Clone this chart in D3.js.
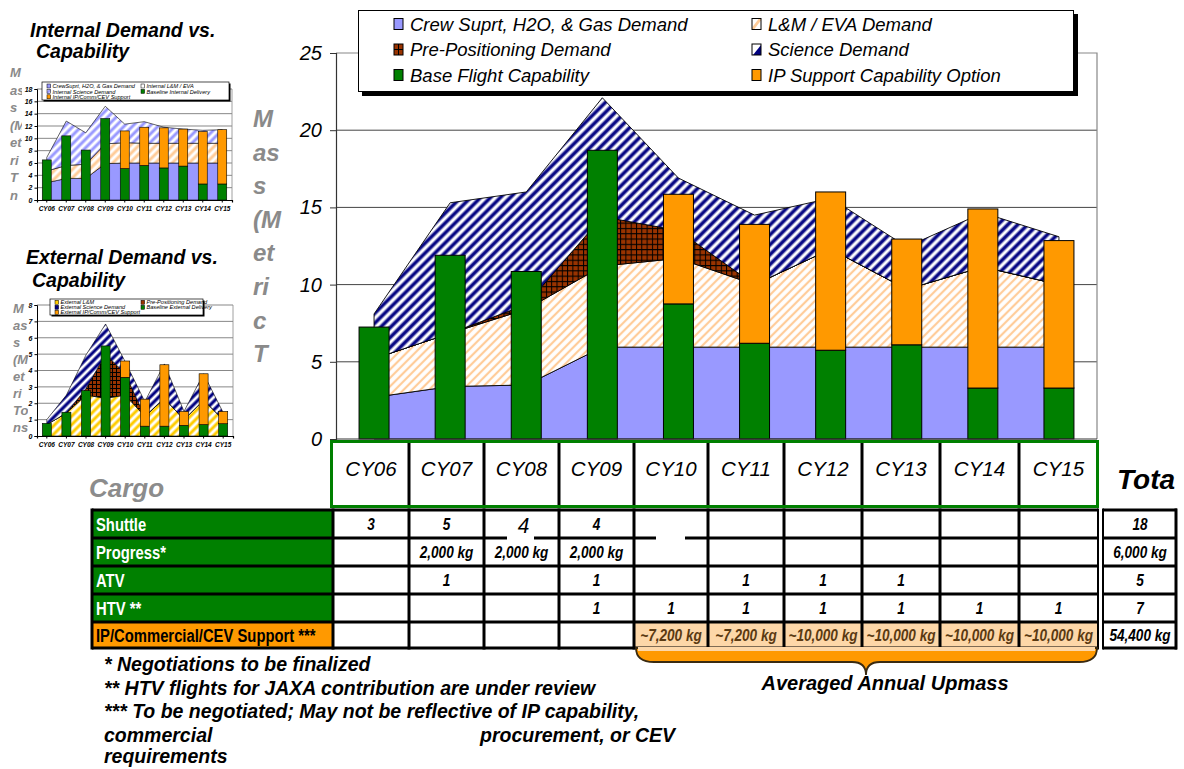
<!DOCTYPE html>
<html>
<head>
<meta charset="utf-8">
<script src="https://cdn.jsdelivr.net/npm/d3@7"></script>
<style>
  body { margin: 0; background: #fff; }
  svg { display: block; }
  text { font-family: "Liberation Sans", Arial, sans-serif; }
</style>
</head>
<body>
<svg id="chart" width="1184" height="769"></svg>
<script>
// ---------- Calendar years ----------
const years = ["CY06","CY07","CY08","CY09","CY10","CY11","CY12","CY13","CY14","CY15"];

// ---------- Main chart: demand (stacked areas) and capability (stacked bars), metric tons ----------
const crewDemand    = [2.7, 3.4, 3.5, 5.95, 5.95, 5.95, 5.95, 5.95, 5.95, 5.95];
const lmEvaDemand   = [2.5, 3.45, 4.9, 5.25, 5.75, 4.05, 6.35, 3.75, 5.2, 4.05];
const prePosDemand  = [0, 0, 0.3, 3.2, 1.8, 0, 0, 0, 0, 0];
const scienceDemand = [2.9, 8.45, 7.3, 7.7, 3.4, 4.5, 3.3, 2.75, 3.5, 3.1];
const baseFlightCap = [7.25, 11.9, 10.85, 18.7, 8.75, 6.2, 5.75, 6.1, 3.3, 3.3];
const ipSupportCap  = [0, 0, 0, 0, 7.1, 7.7, 10.25, 6.85, 11.6, 9.55];
const mainTicks     = [0, 5, 10, 15, 20, 25];

// ---------- Internal demand vs. capability ----------
const intCrew     = [2.8, 3.5, 3.5, 5.9, 6.0, 6.0, 6.0, 6.0, 6.0, 6.0];
const intLmEva    = [1.9, 2.1, 2.3, 3.2, 3.3, 3.2, 3.2, 3.2, 3.2, 3.2];
const intScience  = [2.2, 7.2, 5.1, 6.1, 3.0, 3.5, 2.6, 2.3, 2.1, 2.2];
const intBaseline = [6.5, 10.4, 8.1, 13.2, 5.1, 5.6, 5.2, 5.5, 2.6, 2.6];
const intIpSupport = [0, 0, 0, 0, 6.1, 6.2, 6.5, 6.0, 8.5, 8.8];
const intTicks    = [0, 2, 4, 6, 8, 10, 12, 14, 16, 18];

// ---------- External demand vs. capability ----------
const extLm       = [0.7, 1.4, 2.5, 2.3, 2.5, 1.2, 2.3, 1.0, 2.2, 1.0];
const extPrePos   = [0, 0, 0.4, 2.7, 1.3, 0, 0, 0, 0, 0];
const extScience  = [0.3, 1.1, 2.05, 1.84, 0.74, 0.9, 2.1, 0.5, 1.6, 0.43];
const extBaseline = [0.77, 1.45, 2.77, 5.5, 3.58, 0.6, 0.6, 0.65, 0.7, 0.75];
const extIpSupport = [0, 0, 0, 0, 1.0, 1.65, 3.75, 0.85, 3.1, 0.75];
const extTicks    = [0, 1, 2, 3, 4, 5, 6, 7, 8];

// ---------- Cargo flight table ----------
const cargoRows       = ["Shuttle", "Progress*", "ATV", "HTV **", "IP/Commercial/CEV Support ***"];
const shuttleFlights  = ["3", "5", "4", "4", "", "", "", "", "", ""];
const progressFlights = ["", "2,000 kg", "2,000 kg", "2,000 kg", "", "", "", "", "", ""];
const atvFlights      = ["", "1", "", "1", "", "1", "1", "1", "", ""];
const htvFlights      = ["", "", "", "1", "1", "1", "1", "1", "1", "1"];
const ipUpmass        = ["", "", "", "", "~7,200 kg", "~7,200 kg", "~10,000 kg", "~10,000 kg", "~10,000 kg", "~10,000 kg"];
const rowTotals       = ["18", "6,000 kg", "5", "7", "54,400 kg"];

const footnotes = [
  "* Negotiations to be finalized",
  "** HTV flights for JAXA contribution are under review",
  "*** To be negotiated; May not be reflective of IP capability,"
];

// =====================================================================
const svg = d3.select("#chart");
const defs = svg.append("defs");
const FONT = '"Liberation Sans", Arial, sans-serif';

// diagonal stripe pattern ("/" direction)
function stripes(id, color, period, w, soft) {
  const p = defs.append("pattern").attr("id", id)
    .attr("patternUnits", "userSpaceOnUse")
    .attr("width", period).attr("height", period)
    .attr("patternTransform", "rotate(45)");
  p.append("rect").attr("width", period).attr("height", period).attr("fill", "#fff");
  const x0 = (period - w) / 2;
  if (soft) {
    p.append("rect").attr("x", x0 - soft).attr("width", w + 2 * soft)
      .attr("height", period).attr("fill", color).attr("opacity", 0.45);
  }
  p.append("rect").attr("x", x0).attr("width", w).attr("height", period).attr("fill", color);
}
// brown cross-hatch grid
function grid(id, size) {
  const p = defs.append("pattern").attr("id", id)
    .attr("patternUnits", "userSpaceOnUse")
    .attr("width", size).attr("height", size);
  p.append("rect").attr("width", size).attr("height", size).attr("fill", "#993300");
  p.append("path").attr("d", `M0,0.5H${size}M0.5,0V${size}`)
    .attr("stroke", "#000").attr("stroke-width", 1);
}
stripes("lmMain", "#FFCC99", 6, 2.2, 0);
stripes("sciMain", "#000080", 7, 2.6, 1);
grid("ppMain", 5.3);
stripes("lmInt", "#FFCC99", 6, 3, 0);
stripes("sciInt", "#9999FF", 6, 3, 0);
stripes("lmExt", "#FFCC00", 6, 3, 0);
stripes("sciExt", "#000080", 6, 2.4, 0.8);
grid("ppExt", 4);

// horizontally condensed text (narrow bold face look)
function narrowText(parent, x, y, size, sx, anchor, str, opts = {}) {
  return parent.append("text")
    .attr("transform", `translate(${x},${y}) scale(${sx},1)`)
    .attr("text-anchor", anchor)
    .attr("font-family", FONT).attr("font-size", size)
    .attr("font-weight", opts.weight || "bold")
    .attr("font-style", opts.style || "normal")
    .attr("fill", opts.fill || "#000")
    .text(str);
}

// =====================================================================
// Main chart
const plot = { left: 336, right: 1097, top: 53, bottom: 439 };
const x = d3.scaleBand().domain(years).range([plot.left, plot.right])
  .paddingInner(0.606).paddingOuter(0.303);
const y = d3.scaleLinear().domain([0, 25]).range([plot.bottom, plot.top]);
const cx = yr => x(yr) + x.bandwidth() / 2;

const main = svg.append("g");

// gridlines
main.append("g").selectAll("line").data(mainTicks.filter(t => t > 0 && t < 25)).join("line")
  .attr("x1", plot.left).attr("x2", plot.right)
  .attr("y1", d => y(d)).attr("y2", d => y(d))
  .attr("stroke", "#444").attr("stroke-width", 1);
// plot frame (top and right)
main.append("path")
  .attr("d", `M${plot.left},${y(25)}H${plot.right}V${plot.bottom}`)
  .attr("fill", "none").attr("stroke", "#888").attr("stroke-width", 1.2);

// demand areas
const mainRows = years.map((yr, i) => ({
  year: yr, crew: crewDemand[i], lm: lmEvaDemand[i], pp: prePosDemand[i], sci: scienceDemand[i]
}));
const mainStack = d3.stack().keys(["crew", "lm", "pp", "sci"])(mainRows);
const mainFill = { crew: "#9999FF", lm: "url(#lmMain)", pp: "url(#ppMain)", sci: "url(#sciMain)" };
const mainArea = d3.area().x(d => cx(d.data.year)).y0(d => y(d[0])).y1(d => y(d[1]));
main.append("g").selectAll("path").data(mainStack).join("path")
  .attr("d", mainArea)
  .attr("fill", d => mainFill[d.key])
  .attr("stroke", "#000").attr("stroke-width", 0.9).attr("stroke-linejoin", "round");

// capability bars
const barG = main.append("g");
barG.selectAll("rect.base").data(years).join("rect").attr("class", "base")
  .attr("x", d => x(d)).attr("width", x.bandwidth())
  .attr("y", (d, i) => y(baseFlightCap[i]))
  .attr("height", (d, i) => y(0) - y(baseFlightCap[i]))
  .attr("fill", "#008000").attr("stroke", "#000").attr("stroke-width", 1);
barG.selectAll("rect.ip").data(years.filter((d, i) => ipSupportCap[i] > 0)).join("rect").attr("class", "ip")
  .attr("x", d => x(d)).attr("width", x.bandwidth())
  .attr("y", d => { const i = years.indexOf(d); return y(baseFlightCap[i] + ipSupportCap[i]); })
  .attr("height", d => { const i = years.indexOf(d); return y(baseFlightCap[i]) - y(baseFlightCap[i] + ipSupportCap[i]); })
  .attr("fill", "#FF9900").attr("stroke", "#000").attr("stroke-width", 1);

// y axis
const yAxis = main.append("g").attr("transform", `translate(${plot.left},0)`)
  .call(d3.axisLeft(y).tickValues(mainTicks).tickSize(6).tickPadding(8).tickFormat(d3.format("d")));
yAxis.select(".domain").attr("stroke", "#333").attr("stroke-width", 1.2);
yAxis.selectAll(".tick line").attr("stroke", "#333");
yAxis.selectAll(".tick text").attr("font-family", FONT).attr("font-size", 20)
  .attr("font-style", "italic").attr("fill", "#000");
main.append("line").attr("x1", plot.left).attr("x2", plot.right)
  .attr("y1", plot.bottom).attr("y2", plot.bottom).attr("stroke", "#333");

// y title (wrapped)
["M", "as", "s", "(M", "et", "ri", "c", "T"].forEach((s, i) => {
  svg.append("text").attr("x", 253).attr("y", 127 + i * 33.6)
    .attr("font-family", FONT).attr("font-size", 24).attr("font-weight", "bold")
    .attr("font-style", "italic").attr("fill", "#8a8a8a").text(s);
});

// legend
const leg = svg.append("g");
leg.append("rect").attr("x", 362).attr("y", 14).attr("width", 716).attr("height", 82).attr("fill", "#000");
leg.append("rect").attr("x", 358.5).attr("y", 10.5).attr("width", 715).attr("height", 81)
  .attr("fill", "#fff").attr("stroke", "#000").attr("stroke-width", 1);
const legItems = [
  { label: "Crew Suprt, H2O, & Gas Demand", col: 0, row: 0, kind: "crew" },
  { label: "L&M / EVA Demand", col: 1, row: 0, kind: "lm" },
  { label: "Pre-Positioning Demand", col: 0, row: 1, kind: "pp" },
  { label: "Science Demand", col: 1, row: 1, kind: "sci" },
  { label: "Base Flight Capability", col: 0, row: 2, kind: "base" },
  { label: "IP Support Capability Option", col: 1, row: 2, kind: "ip" }
];
legItems.forEach(it => {
  const sx = it.col === 0 ? 394 : 752, cy = 24 + it.row * 25.5;
  const s = leg.append("g").attr("transform", `translate(${sx},${cy - 5.5})`);
  if (it.kind === "crew") s.append("rect").attr("width", 9).attr("height", 11).attr("fill", "#9999FF");
  if (it.kind === "base") s.append("rect").attr("width", 9).attr("height", 11).attr("fill", "#008000");
  if (it.kind === "ip") s.append("rect").attr("width", 9).attr("height", 11).attr("fill", "#FF9900");
  if (it.kind === "pp") {
    s.append("rect").attr("width", 9).attr("height", 11).attr("fill", "#993300");
    s.append("path").attr("d", "M0,5.5H9M4.5,0V11").attr("stroke", "#000").attr("stroke-width", 1);
  }
  if (it.kind === "lm") {
    s.append("rect").attr("width", 9).attr("height", 11).attr("fill", "#fff");
    s.append("path").attr("d", "M0,9L7,0H9V2L2,11H0Z").attr("fill", "#FFCC99");
  }
  if (it.kind === "sci") {
    s.append("rect").attr("width", 9).attr("height", 11).attr("fill", "#fff");
    s.append("path").attr("d", "M1,11L9,1V11Z").attr("fill", "#000080");
  }
  s.append("rect").attr("width", 9).attr("height", 11).attr("fill", "none").attr("stroke", "#000").attr("stroke-width", 1);
  leg.append("text").attr("x", sx + 16).attr("y", cy + 6.5)
    .attr("font-family", FONT).attr("font-size", 18.5).attr("font-style", "italic").text(it.label);
});

// =====================================================================
// Small charts
function drawInset(cfg) {
  const g = svg.append("g");
  cfg.title.forEach(t => g.append("text").attr("x", t[0]).attr("y", t[1])
    .attr("font-family", FONT).attr("font-size", 19.5).attr("font-weight", "bold")
    .attr("font-style", "italic").text(t[2]));
  cfg.yTitle.forEach((s, i) => g.append("text").attr("x", cfg.yTitleX).attr("y", cfg.yTitleY + i * cfg.yTitleStep)
    .attr("font-family", FONT).attr("font-size", 13).attr("font-weight", "bold")
    .attr("font-style", "italic").attr("fill", "#8a8a8a").text(s));
  // chart area
  g.append("rect").attr("x", cfg.chartArea[0]).attr("y", cfg.chartArea[1])
    .attr("width", cfg.chartArea[2]).attr("height", cfg.chartArea[3]).attr("fill", "#fff");

  const xs = d3.scaleBand().domain(years).range(cfg.xRange).paddingInner(0.54).paddingOuter(0.27);
  const ys = d3.scaleLinear().domain([0, cfg.ticks[cfg.ticks.length - 1]]).range(cfg.yRange);
  const xc = yr => xs(yr) + xs.bandwidth() / 2;

  g.append("g").selectAll("line").data(cfg.ticks.slice(1)).join("line")
    .attr("x1", cfg.xRange[0]).attr("x2", cfg.xRange[1])
    .attr("y1", d => ys(d)).attr("y2", d => ys(d))
    .attr("stroke", "#555").attr("stroke-width", 0.7);
  g.append("line").attr("x1", cfg.xRange[1]).attr("x2", cfg.xRange[1])
    .attr("y1", cfg.yRange[1]).attr("y2", cfg.yRange[0]).attr("stroke", "#888").attr("stroke-width", 0.8);

  const rows = years.map((yr, i) => {
    const o = { year: yr };
    cfg.layers.forEach(l => { o[l.key] = l.values[i]; });
    return o;
  });
  const st = d3.stack().keys(cfg.layers.map(l => l.key))(rows);
  const fillOf = Object.fromEntries(cfg.layers.map(l => [l.key, l.fill]));
  const ar = d3.area().x(d => xc(d.data.year)).y0(d => ys(d[0])).y1(d => ys(d[1]));
  g.append("g").selectAll("path").data(st).join("path")
    .attr("d", ar).attr("fill", d => fillOf[d.key])
    .attr("stroke", "#000").attr("stroke-width", 0.6);

  g.append("g").selectAll("rect").data(years).join("rect")
    .attr("x", d => xs(d)).attr("width", xs.bandwidth())
    .attr("y", (d, i) => ys(cfg.base[i])).attr("height", (d, i) => ys(0) - ys(cfg.base[i]))
    .attr("fill", "#008000").attr("stroke", "#000").attr("stroke-width", 0.6);
  g.append("g").selectAll("rect").data(years.filter((d, i) => cfg.ip[i] > 0)).join("rect")
    .attr("x", d => xs(d)).attr("width", xs.bandwidth())
    .attr("y", d => { const i = years.indexOf(d); return ys(cfg.base[i] + cfg.ip[i]); })
    .attr("height", d => { const i = years.indexOf(d); return ys(cfg.base[i]) - ys(cfg.base[i] + cfg.ip[i]); })
    .attr("fill", "#FF9900").attr("stroke", "#000").attr("stroke-width", 0.6);

  const ya = g.append("g").attr("transform", `translate(${cfg.xRange[0]},0)`)
    .call(d3.axisLeft(ys).tickValues(cfg.ticks).tickSize(2.5).tickPadding(2).tickFormat(d3.format("d")));
  ya.select(".domain").attr("stroke", "#000").attr("stroke-width", 1);
  ya.selectAll(".tick text").attr("font-family", FONT).attr("font-size", 7)
    .attr("font-weight", "bold").attr("font-style", "italic").attr("fill", "#000");
  const xa = g.append("g").attr("transform", `translate(0,${cfg.yRange[0]})`)
    .call(d3.axisBottom(xs).tickSize(2.5).tickPadding(3.5));
  xa.select(".domain").attr("stroke", "#000").attr("stroke-width", 1.2);
  xa.selectAll(".tick text").attr("font-family", FONT).attr("font-size", 6.5)
    .attr("font-weight", "bold").attr("font-style", "italic").attr("fill", "#000");

  // legend
  const L = cfg.legend;
  g.append("rect").attr("x", L.box[0] + 1.5).attr("y", L.box[1] + 1.5).attr("width", L.box[2]).attr("height", L.box[3]).attr("fill", "#000");
  g.append("rect").attr("x", L.box[0]).attr("y", L.box[1]).attr("width", L.box[2]).attr("height", L.box[3])
    .attr("fill", "#fff").attr("stroke", "#000").attr("stroke-width", 0.7);
  L.items.forEach(it => {
    const sx = L.cols[it[1]], sy = L.rows[it[2]];
    g.append("rect").attr("x", sx).attr("y", sy - 2.2).attr("width", 3.6).attr("height", 4)
      .attr("fill", it[3]).attr("stroke", "#000").attr("stroke-width", 0.5);
    g.append("text").attr("x", sx + 5.5).attr("y", sy + 1.9)
      .attr("font-family", FONT).attr("font-size", 5.6).attr("font-style", "italic").text(it[0]);
  });
}

drawInset({
  title: [[30, 37, "Internal Demand vs."], [36, 58, "Capability"]],
  yTitle: ["M", "as", "s", "(M", "et", "ri", "T", "n"], yTitleX: 10, yTitleY: 77, yTitleStep: 17.5,
  chartArea: [22, 64, 216, 152],
  xRange: [37, 232], yRange: [200, 89], ticks: intTicks,
  layers: [
    { key: "crew", values: intCrew, fill: "#9999FF" },
    { key: "lm", values: intLmEva, fill: "url(#lmInt)" },
    { key: "sci", values: intScience, fill: "url(#sciInt)" }
  ],
  base: intBaseline, ip: intIpSupport,
  legend: {
    box: [42, 82, 187, 18], cols: [47, 141], rows: [86.2, 91.6, 97],
    items: [
      ["CrewSuprt, H2O, & Gas Demand", 0, 0, "#9999FF"],
      ["Internal L&M / EVA", 1, 0, "#fff"],
      ["Internal Science Demand", 0, 1, "url(#sciInt)"],
      ["Baseline Internal Delivery", 1, 1, "#008000"],
      ["Internal IP/Comm/CEV Support", 0, 2, "#FF9900"]
    ]
  }
});

drawInset({
  title: [[26, 264, "External Demand vs."], [32, 287, "Capability"]],
  yTitle: ["M", "as", "s", "(M", "et", "ri", "To", "ns"], yTitleX: 13, yTitleY: 313, yTitleStep: 17,
  chartArea: [28, 294, 210, 160],
  xRange: [37, 233], yRange: [436, 305], ticks: extTicks,
  layers: [
    { key: "lm", values: extLm, fill: "url(#lmExt)" },
    { key: "pp", values: extPrePos, fill: "url(#ppExt)" },
    { key: "sci", values: extScience, fill: "url(#sciExt)" }
  ],
  base: extBaseline, ip: extIpSupport,
  legend: {
    box: [50, 299, 153, 16], cols: [55, 141], rows: [302.5, 307.5, 312.5],
    items: [
      ["External L&M", 0, 0, "#FFCC00"],
      ["Pre-Positioning Demand", 1, 0, "#993300"],
      ["External Science Demand", 0, 1, "#000080"],
      ["Baseline External Delivery", 1, 1, "#008000"],
      ["External IP/Comm/CEV Support", 0, 2, "#FF9900"]
    ]
  }
});

// =====================================================================
// Cargo table
const colEdges = [333, 409, 484, 559, 634, 708, 784, 862, 940, 1019, 1098];
const colLeft = d3.scaleOrdinal(years, colEdges.slice(0, 10));
const colRight = d3.scaleOrdinal(years, colEdges.slice(1));
const colMid = yr => (colLeft(yr) + colRight(yr)) / 2;
const rowEdges = [510, 538, 566, 594, 622, 648];
const rowMid = r => (rowEdges[r] + rowEdges[r + 1]) / 2;
const tbl = svg.append("g");

// header row of years
tbl.append("rect").attr("x", 331.5).attr("y", 441.5).attr("width", 766).attr("height", 65)
  .attr("fill", "#fff").attr("stroke", "#008000").attr("stroke-width", 3);
tbl.append("g").selectAll("line").data(years.slice(1)).join("line")
  .attr("x1", d => colLeft(d)).attr("x2", d => colLeft(d))
  .attr("y1", 443).attr("y2", 505).attr("stroke", "#000").attr("stroke-width", 3);
tbl.append("g").selectAll("text").data(years).join("text")
  .attr("x", colMid).attr("y", 476).attr("text-anchor", "middle")
  .attr("font-family", FONT).attr("font-size", 20.5).attr("font-style", "italic").text(d => d);

svg.append("text").attr("x", 89).attr("y", 497).attr("font-family", FONT).attr("font-size", 26)
  .attr("font-weight", "bold").attr("font-style", "italic").attr("fill", "#8c8c8c").text("Cargo");
svg.append("text").attr("x", 1117).attr("y", 489).attr("font-family", FONT).attr("font-size", 28)
  .attr("font-weight", "bold").attr("font-style", "italic").attr("fill", "#000").text("Tota");

// label cells
cargoRows.forEach((r, i) => {
  tbl.append("rect").attr("x", 92).attr("y", rowEdges[i]).attr("width", 333 - 92)
    .attr("height", rowEdges[i + 1] - rowEdges[i]).attr("fill", i < 4 ? "#008000" : "#FF9900");
});
// upmass cells under the brace
years.forEach((yr, i) => {
  if (ipUpmass[i]) tbl.append("rect").attr("x", colLeft(yr)).attr("y", rowEdges[4])
    .attr("width", colRight(yr) - colLeft(yr)).attr("height", rowEdges[5] - rowEdges[4]).attr("fill", "#FDD7A8");
});

// brace below the upmass cells
{
  const x0 = 636, x1 = 1097, yT = 648, yB = 662, tx = 866, tip = 675;
  const d = `M${x0},${yT} C${x0},${yT + 9} ${x0 + 6},${yB} ${x0 + 18},${yB} L${tx - 14},${yB}
    C${tx - 5},${yB} ${tx},${yB + 4} ${tx},${tip} C${tx},${yB + 4} ${tx + 5},${yB} ${tx + 14},${yB}
    L${x1 - 18},${yB} C${x1 - 6},${yB} ${x1},${yT + 9} ${x1},${yT} Z`;
  svg.append("path").attr("d", d).attr("fill", "#FF9900").attr("stroke", "#3a2a10").attr("stroke-width", 1.8);
  svg.append("rect").attr("x", x0 + 2).attr("y", yT - 1).attr("width", x1 - x0 - 4).attr("height", 4).attr("fill", "#FDD7A8");
}

// grid lines
tbl.append("g").selectAll("line").data(rowEdges).join("line")
  .attr("x1", 92).attr("x2", 1098).attr("y1", d => d).attr("y2", d => d)
  .attr("stroke", "#000").attr("stroke-width", 3);
tbl.append("g").selectAll("line").data(rowEdges).join("line")
  .attr("x1", 1103).attr("x2", 1177).attr("y1", d => d).attr("y2", d => d)
  .attr("stroke", "#000").attr("stroke-width", 3);
tbl.append("g").selectAll("line").data([92, ...colEdges, 1103, 1176]).join("line")
  .attr("x1", d => d).attr("x2", d => d).attr("y1", rowEdges[0] - 1.5).attr("y2", rowEdges[5] + 1.5)
  .attr("stroke", "#000").attr("stroke-width", d => (d === 1098 || d === 1103) ? 2 : 3);
// small breaks in the border under the shuttle row
tbl.append("rect").attr("x", 507).attr("y", 536).attr("width", 27).attr("height", 4).attr("fill", "#fff");
tbl.append("rect").attr("x", 656).attr("y", 535).attr("width", 29).attr("height", 5).attr("fill", "#fff");

// row labels
cargoRows.forEach((r, i) => {
  narrowText(tbl, 96, rowMid(i) + 7, 19, 0.78, "start", r, { fill: i < 4 ? "#fff" : "#000" });
});

// cell values
const cellData = [shuttleFlights, progressFlights, atvFlights, htvFlights, ipUpmass];
cellData.forEach((vals, r) => {
  years.forEach((yr, i) => {
    if (!vals[i]) return;
    if (r === 0 && i === 2) {
      narrowText(tbl, colMid(yr) + 2, rowMid(r) + 9, 22, 0.95, "middle", vals[i], { weight: "normal", style: "italic" });
    } else {
      narrowText(tbl, colMid(yr), rowMid(r) + 6, 17, 0.8, "middle", vals[i],
        { style: "italic", fill: r === 4 ? "#5a3a12" : "#000" });
    }
  });
});
rowTotals.forEach((v, r) => {
  narrowText(tbl, 1140, rowMid(r) + 6, 17, 0.8, "middle", v, { style: "italic" });
});

svg.append("text").attr("x", 885).attr("y", 690).attr("text-anchor", "middle")
  .attr("font-family", FONT).attr("font-size", 20).attr("font-weight", "bold")
  .attr("font-style", "italic").text("Averaged Annual Upmass");

// footnotes
const fnG = svg.append("g").attr("font-family", FONT).attr("font-size", 19.5)
  .attr("font-weight", "bold").attr("font-style", "italic");
footnotes.forEach((s, i) => fnG.append("text").attr("x", 104).attr("y", 671 + i * 23.5).text(s));
fnG.append("text").attr("x", 104).attr("y", 741.5).text("commercial");
fnG.append("text").attr("x", 480).attr("y", 741.5).text("procurement, or CEV");
fnG.append("text").attr("x", 104).attr("y", 763).text("requirements");
</script>
</body>
</html>
